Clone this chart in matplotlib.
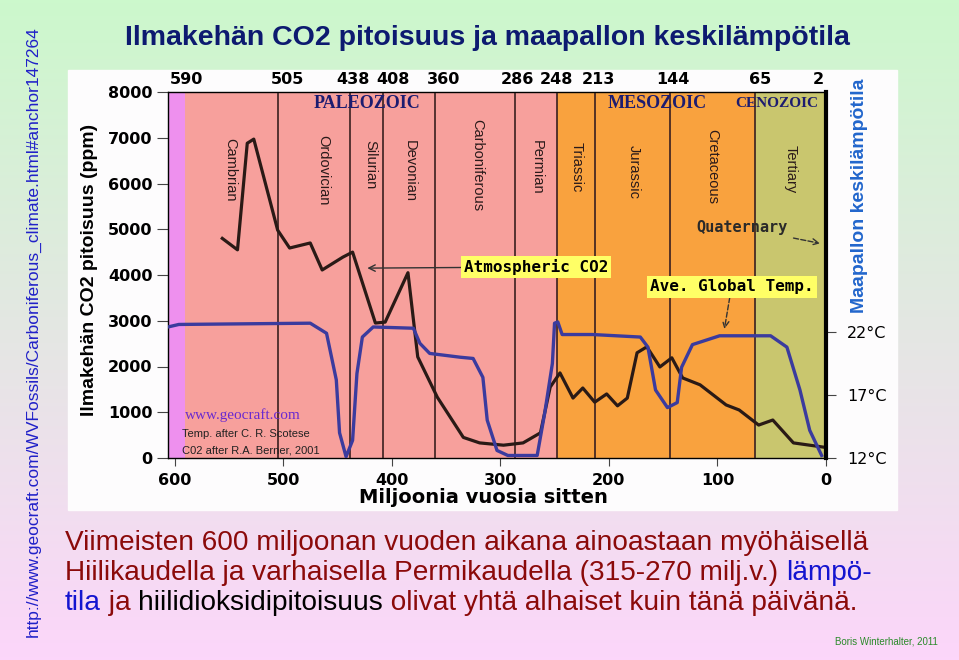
import numpy as np
import matplotlib.pyplot as plt
from matplotlib.patches import Rectangle

# CO2 (ppm), ages in millions of years before present
co2_age = [556, 542, 533, 527, 505, 494, 475, 464, 445, 436, 415, 406, 385, 376,
           358, 334, 319, 297, 279, 263, 254, 245, 233, 224, 213, 202, 192, 183,
           174, 165, 153, 142, 132, 116, 92, 80, 62, 49, 30, 3]
co2_ppm = [4800, 4550, 6880, 6970, 4980, 4590, 4700, 4110, 4390, 4500, 2950, 2970,
           4050, 2210, 1330, 450, 330, 280, 330, 550, 1550, 1860, 1310, 1530, 1220,
           1400, 1140, 1310, 2300, 2430, 1990, 2190, 1750, 1600, 1160, 1050, 720,
           830, 330, 240]

# average global temperature (deg C)
temp_age = [606, 596, 475, 460, 451, 448, 442, 436, 432, 427, 417, 380, 374, 365,
            337, 325, 316, 312, 303, 293, 266, 259, 252, 250, 247, 243, 215, 171,
            164, 157, 146, 137, 133, 123, 98, 51, 36, 24, 15, 4]
temp_c = [22.4, 22.6, 22.7, 21.9, 18.2, 14.0, 12.1, 13.4, 18.7, 21.6, 22.4, 22.3,
          21.1, 20.3, 20.0, 19.9, 18.4, 15.0, 12.6, 12.2, 12.2, 15.6, 19.5, 22.7,
          22.8, 21.8, 21.8, 21.6, 20.8, 17.4, 16.0, 16.4, 19.2, 21.0, 21.7, 21.7,
          20.8, 17.4, 14.2, 12.2]

boundaries = [590, 505, 438, 408, 360, 286, 248, 213, 144, 65, 2]
boundary_label_x = [589, 496, 436, 399, 352, 284, 248, 210, 141, 61, 7]
periods = ['Cambrian', 'Ordovician', 'Silurian', 'Devonian', 'Carboniferous',
           'Permian', 'Triassic', 'Jurassic', 'Cretaceous', 'Tertiary']
period_x = [549, 463, 420, 383, 321, 266, 230, 177, 105, 33]
period_top = [7000, 7050, 6950, 6950, 7400, 6950, 6900, 6850, 7200, 6850]

W, H = 959, 660


def fx(px):
    return px / W


def fy(py):
    return 1 - py / H


fig = plt.figure(figsize=(9.59, 6.60), dpi=100)

# taustan liukuväri
bg = fig.add_axes([0, 0, 1, 1], zorder=-10)
top = np.array([204, 248, 204]) / 255
bot = np.array([252, 214, 250]) / 255
t = np.linspace(0, 1, 200)[:, None]
grad = (top * (1 - t) + bot * t)[:, None, :]
bg.imshow(np.repeat(grad, 2, axis=1), aspect='auto', extent=[0, 1, 0, 1])
bg.axis('off')
bg.add_patch(Rectangle((fx(68), fy(510)), fx(897) - fx(68), fy(70) - fy(510),
                       color='#fdfcfd', transform=bg.transAxes))

ax = fig.add_axes([fx(168), fy(458), fx(826) - fx(168), fy(92) - fy(458)])
ax.set_xlim(606, 0)
ax.set_ylim(0, 8000)

# aikakaudet
ax.axvspan(606, 590, color='#ee90ee', lw=0)
ax.axvspan(590, 248, color='#f7a09c', lw=0)
ax.axvspan(248, 65, color='#f9a23e', lw=0)
ax.axvspan(65, 0, color='#c9c66e', lw=0)
for b in boundaries[1:-1]:
    ax.axvline(b, color='#3a2020', lw=1.2)

for name, x, y in zip(periods, period_x, period_top):
    ax.text(x, y, name, rotation=270, ha='center', va='top', fontsize=10.5,
            family='Liberation Sans', color='#2a1a1a')

era_font = dict(ha='center', va='center', family='Liberation Serif',
                fontweight='bold', color='#1c1c70')
ax.text(423, 7750, 'PALEOZOIC', fontsize=13, **era_font)
ax.text(155, 7750, 'MESOZOIC', fontsize=13, **era_font)
ax.text(45, 7750, 'CENOZOIC', fontsize=11, **era_font)

ax.plot(co2_age, co2_ppm, color='#2a1a16', lw=2.3, zorder=3)

ax2 = ax.twinx()
ax2.set_ylim(12, 41.05)
ax2.plot(temp_age, temp_c, color='#3b3b9e', lw=2.4, zorder=4)

# akselit
bold_font = dict(fontsize=11.5, fontweight='bold', family='DejaVu Sans')
ax.set_yticks(range(0, 8001, 1000))
ax.set_yticklabels([str(v) for v in range(0, 8001, 1000)], **bold_font)
ax.set_xticks(range(600, -1, -100))
ax.set_xticklabels([str(v) for v in range(600, -1, -100)], **bold_font)
ax.tick_params(axis='y', length=8, color='#444444', pad=3)
ax.tick_params(axis='x', length=6, color='#444444', pad=5)
for s in ax.spines.values():
    s.set_color('#333333')
    s.set_linewidth(1)

ax2.set_yticks([12, 17, 22])
ax2.set_yticklabels(['12°C', '17°C', '22°C'], fontsize=11.5, family='DejaVu Sans')
ax2.tick_params(axis='y', length=7, color='#444444', pad=8)
ax2.spines['right'].set_linewidth(3)
ax2.spines['right'].set_color('black')

# kausien rajat yläreunassa
for b, x in zip(boundaries, boundary_label_x):
    ax.text(x, 1.013, str(b), transform=ax.get_xaxis_transform(),
            ha='center', va='bottom', **bold_font)

ax.set_xlabel('Miljoonia vuosia sitten', fontsize=14, fontweight='bold',
              family='DejaVu Sans')
ax.xaxis.set_label_coords(0.479, -0.107)
ax.xaxis.label.set_va('center')

# huomautukset
box = dict(boxstyle='square,pad=0.2', fc='#ffff66', ec='none')
note_font = dict(ha='center', va='center', fontsize=11.5, fontweight='bold',
                 family='DejaVu Sans Mono')
ax.annotate('Atmospheric CO2', xy=(425, 4150), xytext=(267, 4175), bbox=box,
            arrowprops=dict(arrowstyle='->', color='#333333', lw=1, shrinkA=0),
            **note_font)
ax.annotate('Ave. Global Temp.', xy=(94, 2760), xytext=(87, 3740), bbox=box,
            arrowprops=dict(arrowstyle='->', color='#333333', lw=1,
                            linestyle='--', shrinkA=0),
            **note_font)
ax.annotate('Quaternary', xy=(3, 4680), xytext=(77, 5030), color='#2a2a2a',
            arrowprops=dict(arrowstyle='->', color='#333333', lw=1,
                            linestyle='--', shrinkA=2),
            **{**note_font, 'fontsize': 11})

ax.text(590, 940, 'www.geocraft.com', fontsize=11, family='Liberation Serif',
        color='#6a2ad0', va='center')
ax.text(593, 520, 'Temp. after C. R. Scotese', fontsize=8, va='center',
        family='Liberation Sans', color='#222222')
ax.text(593, 170, 'C02 after R.A. Berner, 2001', fontsize=8, va='center',
        family='Liberation Sans', color='#222222')

# otsikot ja selitteet
sans = 'Liberation Sans'
fig.text(fx(487), fy(38), 'Ilmakehän CO2 pitoisuus ja maapallon keskilämpötila',
         ha='center', va='center', fontsize=20.5, fontweight='bold',
         family=sans, color='#0d1a70')
fig.text(fx(90), fy(270), 'Ilmakehän CO2 pitoisuus (ppm)', rotation=90,
         ha='center', va='center', fontsize=14, fontweight='bold',
         family=sans, color='black')
fig.text(fx(860), fy(196), 'Maapallon keskilämpötila', rotation=90,
         ha='center', va='center', fontsize=14, fontweight='bold',
         family=sans, color='#2266cc')
fig.text(fx(33), fy(332),
         'http://www.geocraft.com/WVFossils/Carboniferous_climate.html#anchor147264',
         rotation=90, ha='center', va='center', fontsize=12.5,
         family=sans, color='#2020c8')
fig.text(fx(938), fy(641), 'Boris Winterhalter, 2011', ha='right', va='center',
         fontsize=7, family=sans, color='#2a8a2a')

red = '#8b0a0a'
blue = '#1414d0'
lines = [
    [('Viimeisten 600 miljoonan vuoden aikana ainoastaan myöhäisellä', red)],
    [('Hiilikaudella ja varhaisella Permikaudella (315-270 milj.v.) ', red),
     ('lämpö-', blue)],
    [('tila', blue), (' ja ', red), ('hiilidioksidipitoisuus', 'black'),
     (' olivat yhtä alhaiset kuin tänä päivänä.', red)],
]
renderer = fig.canvas.get_renderer()
for i, parts in enumerate(lines):
    x = fx(65)
    y = fy(543 + i * 30)
    for s, c in parts:
        txt = fig.text(x, y, s, color=c, fontsize=20.2, va='center', family=sans)
        bb = txt.get_window_extent(renderer=renderer)
        x += bb.width / fig.bbox.width

fig.savefig('out.png', dpi=100)
